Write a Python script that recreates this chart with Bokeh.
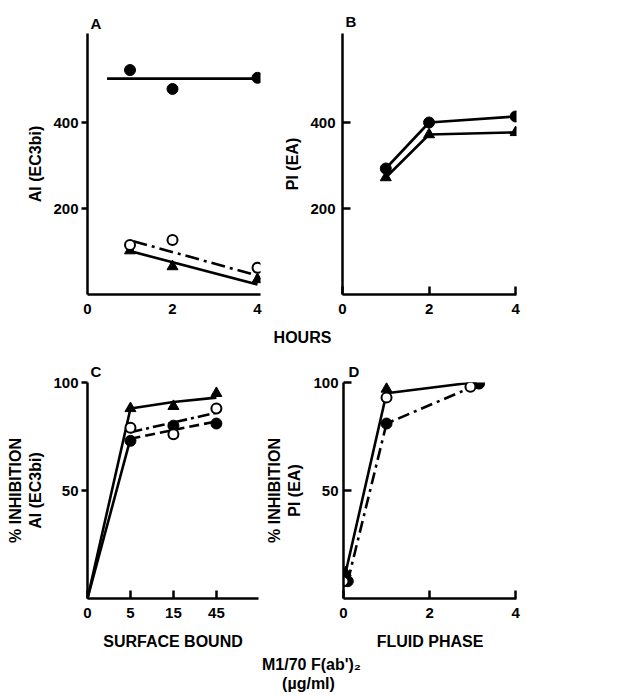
from bokeh.plotting import figure
from bokeh.layouts import row, column
from bokeh.models import FixedTicker, Label, Range1d
from bokeh.embed import file_html
from bokeh.resources import INLINE

FONT = "Liberation Sans"

# ---------------- Panel A : AI (EC3bi) vs hours ----------------
a_hours = [1, 2, 4]
a_closed = [522, 478, 504]
a_open = [115, 127, 62]
a_tri = [102, 65, 35]
a_closed_fit_x = [0.46, 4]
a_closed_fit = [502, 502]
a_open_fit_x = [1.08, 4]
a_open_fit = [124, 44]
a_tri_fit_x = [1, 4]
a_tri_fit = [101, 23]

# ---------------- Panel B : PI (EA) vs hours ----------------
b_hours = [1, 2, 4]
b_closed = [293, 400, 414]
b_tri = [272, 372, 377]

# ---------------- Panel C : % inhibition AI, surface bound ----------------
c_labels = ["0", "5", "15", "45"]
c_ticks = [0, 1, 2, 3]
c_pos = [1, 2, 3]
c_tri = [88, 89, 95]
c_open = [79, 76, 88]
c_closed = [73, 80, 81]
c_tri_fit_x = [0, 1, 2, 3]
c_tri_fit = [0, 88, 91, 93]
c_low_fit_x = [0, 1]
c_low_fit = [0, 74]
c_open_fit_x = [1, 3]
c_open_fit = [77, 86]
c_closed_fit_x = [1, 3]
c_closed_fit = [74, 82]

# ---------------- Panel D : % inhibition PI, fluid phase ----------------
d_tri_x = [0.05, 1, 3]
d_tri = [12, 97, 100]
d_open_x = [0, 1, 2.95]
d_open = [8, 93, 98]
d_closed_x = [0.1, 1, 3.15]
d_closed = [8, 81, 99.5]
d_solid_fit_x = [0.05, 1, 3]
d_solid_fit = [12, 95, 100]
d_dash_fit_x = [0.1, 1, 3]
d_dash_fit = [8, 81, 98]

x_ticks_hours = [0, 2, 4]
y_ticks_hours = [200, 400]
y_ticks_pct = [50, 100]


def style_axis(ax, tick_in, tick_out, label_standoff):
    ax.axis_line_width = 2.5
    ax.axis_line_color = "black"
    ax.major_tick_line_width = 2.5
    ax.major_tick_line_color = "black"
    ax.major_tick_in = tick_in
    ax.major_tick_out = tick_out
    ax.minor_tick_line_color = None
    ax.major_label_text_font = FONT
    ax.major_label_text_font_style = "bold"
    ax.major_label_text_font_size = "15px"
    ax.major_label_text_color = "black"
    ax.major_label_standoff = label_standoff
    ax.axis_label_text_font = FONT
    ax.axis_label_text_font_style = "bold"
    ax.axis_label_text_font_size = "16px"
    ax.axis_label_text_color = "black"


def make_fig(width, height, xr, yr, left, right, top, bottom, letter, offset, standoff):
    p = figure(width=width, height=height, x_range=Range1d(*xr), y_range=Range1d(*yr),
               output_backend="svg", toolbar_location=None,
               min_border_left=left, min_border_right=right,
               min_border_top=top, min_border_bottom=bottom)
    p.outline_line_color = None
    p.grid.visible = False
    p.background_fill_color = "white"
    p.border_fill_color = "white"
    p.title.text = letter
    p.title.align = "left"
    p.title.offset = offset
    p.title.standoff = standoff
    p.title.text_font = FONT
    p.title.text_font_style = "bold"
    p.title.text_font_size = "15px"
    p.title.text_color = "black"
    return p


def text_strip(width, height, items):
    p = figure(width=width, height=height, x_range=Range1d(0, width), y_range=Range1d(0, height),
               output_backend="svg", toolbar_location=None,
               min_border_left=0, min_border_right=0, min_border_top=0, min_border_bottom=0)
    p.axis.visible = False
    p.grid.visible = False
    p.outline_line_color = None
    for text, x, y in items:
        p.add_layout(Label(x=x, y=y, text=text, text_font=FONT, text_font_style="bold",
                           text_font_size="16px", text_color="black",
                           text_align="center", text_baseline="middle"))
    return p


LW = 2.6
MS = 11

# ---------- A ----------
pA = make_fig(262, 326, (0, 4.07), (0, 607), 87, 2, 33, 32, "A", 3, 4)
style_axis(pA.xaxis[0], 0, 0, 9)
style_axis(pA.yaxis[0], 0, 6, 3)
pA.xaxis[0].ticker = FixedTicker(ticks=x_ticks_hours)
pA.yaxis[0].ticker = FixedTicker(ticks=y_ticks_hours)
pA.yaxis[0].axis_label = "AI (EC3bi)"
pA.yaxis[0].axis_label_standoff = 6
pA.line(a_closed_fit_x, a_closed_fit, line_color="black", line_width=LW)
pA.line(a_tri_fit_x, a_tri_fit, line_color="black", line_width=LW)
pA.line(a_open_fit_x, a_open_fit, line_color="black", line_width=LW, line_dash="14 5 3 5")
pA.scatter(a_hours, a_closed, marker="circle", size=MS, fill_color="black", line_color="black")
pA.scatter(a_hours, a_tri, marker="triangle", size=MS, fill_color="black", line_color="black")
pA.scatter(a_hours, a_open, marker="circle", size=MS - 1, fill_color="white", line_color="black", line_width=2)

# ---------- B ----------
pB = make_fig(381, 326, (0, 4.02), (0, 607), 80, 127, 33, 32, "B", 3, 7)
style_axis(pB.xaxis[0], 8, 0, 9)
style_axis(pB.yaxis[0], 8, 0, 7)
pB.xaxis[0].ticker = FixedTicker(ticks=x_ticks_hours)
pB.yaxis[0].ticker = FixedTicker(ticks=y_ticks_hours)
pB.yaxis[0].axis_label = "PI (EA)"
pB.yaxis[0].axis_label_standoff = 6
pB.line(b_hours, b_closed, line_color="black", line_width=LW)
pB.line(b_hours, b_tri, line_color="black", line_width=LW)
pB.scatter(b_hours, b_closed, marker="circle", size=MS, fill_color="black", line_color="black")
pB.scatter(b_hours, b_tri, marker="triangle", size=MS, fill_color="black", line_color="black")

hours_strip = text_strip(643, 22, [("HOURS", 302, 11)])

# ---------- C ----------
pC = make_fig(262, 304, (0, 3.98), (0, 100), 87, 4, 34, 54, "C", 3, 5)
style_axis(pC.xaxis[0], 8, 0, 9)
style_axis(pC.yaxis[0], 0, 6, 3)
pC.xaxis[0].ticker = FixedTicker(ticks=c_ticks)
pC.xaxis[0].major_label_overrides = {i: c_labels[i] for i in c_ticks}
pC.xaxis[0].axis_label = "SURFACE BOUND"
pC.xaxis[0].axis_label_standoff = 12
pC.yaxis[0].ticker = FixedTicker(ticks=y_ticks_pct)
pC.yaxis[0].axis_label = "% INHIBITION\nAI (EC3bi)"
pC.yaxis[0].axis_label_standoff = 6
pC.line(c_tri_fit_x, c_tri_fit, line_color="black", line_width=LW)
pC.line(c_low_fit_x, c_low_fit, line_color="black", line_width=LW)
pC.line(c_open_fit_x, c_open_fit, line_color="black", line_width=LW, line_dash="12 4 3 4")
pC.line(c_closed_fit_x, c_closed_fit, line_color="black", line_width=LW, line_dash="10 5")
pC.scatter(c_pos, c_tri, marker="triangle", size=MS, fill_color="black", line_color="black")
pC.scatter(c_pos, c_closed, marker="circle", size=MS, fill_color="black", line_color="black")
pC.scatter(c_pos, c_open, marker="circle", size=MS - 1, fill_color="white", line_color="black", line_width=2)

# ---------- D ----------
pD = make_fig(381, 304, (0, 4.02), (0, 100), 81, 127, 34, 54, "D", 5, 6)
style_axis(pD.xaxis[0], 8, 0, 9)
style_axis(pD.yaxis[0], 8, 0, 5)
pD.xaxis[0].ticker = FixedTicker(ticks=x_ticks_hours)
pD.xaxis[0].axis_label = "FLUID PHASE"
pD.xaxis[0].axis_label_standoff = 12
pD.yaxis[0].ticker = FixedTicker(ticks=y_ticks_pct)
pD.yaxis[0].axis_label = "% INHIBITION\nPI (EA)"
pD.yaxis[0].axis_label_standoff = 7
pD.line(d_solid_fit_x, d_solid_fit, line_color="black", line_width=LW)
pD.line(d_dash_fit_x, d_dash_fit, line_color="black", line_width=LW, line_dash="12 5 3 5")
pD.scatter(d_tri_x, d_tri, marker="triangle", size=MS, fill_color="black", line_color="black")
pD.scatter(d_closed_x, d_closed, marker="circle", size=MS, fill_color="black", line_color="black")
pD.scatter(d_open_x, d_open, marker="circle", size=MS - 1, fill_color="white", line_color="black", line_width=2)

caption = text_strip(643, 46, [("M1/70 F(ab')\u2082", 311, 34), ("(\u00b5g/ml)", 308, 15)])

layout = column(row(pA, pB), hours_strip, row(pC, pD), caption)
open("out.html", "w").write(file_html(layout, INLINE))
